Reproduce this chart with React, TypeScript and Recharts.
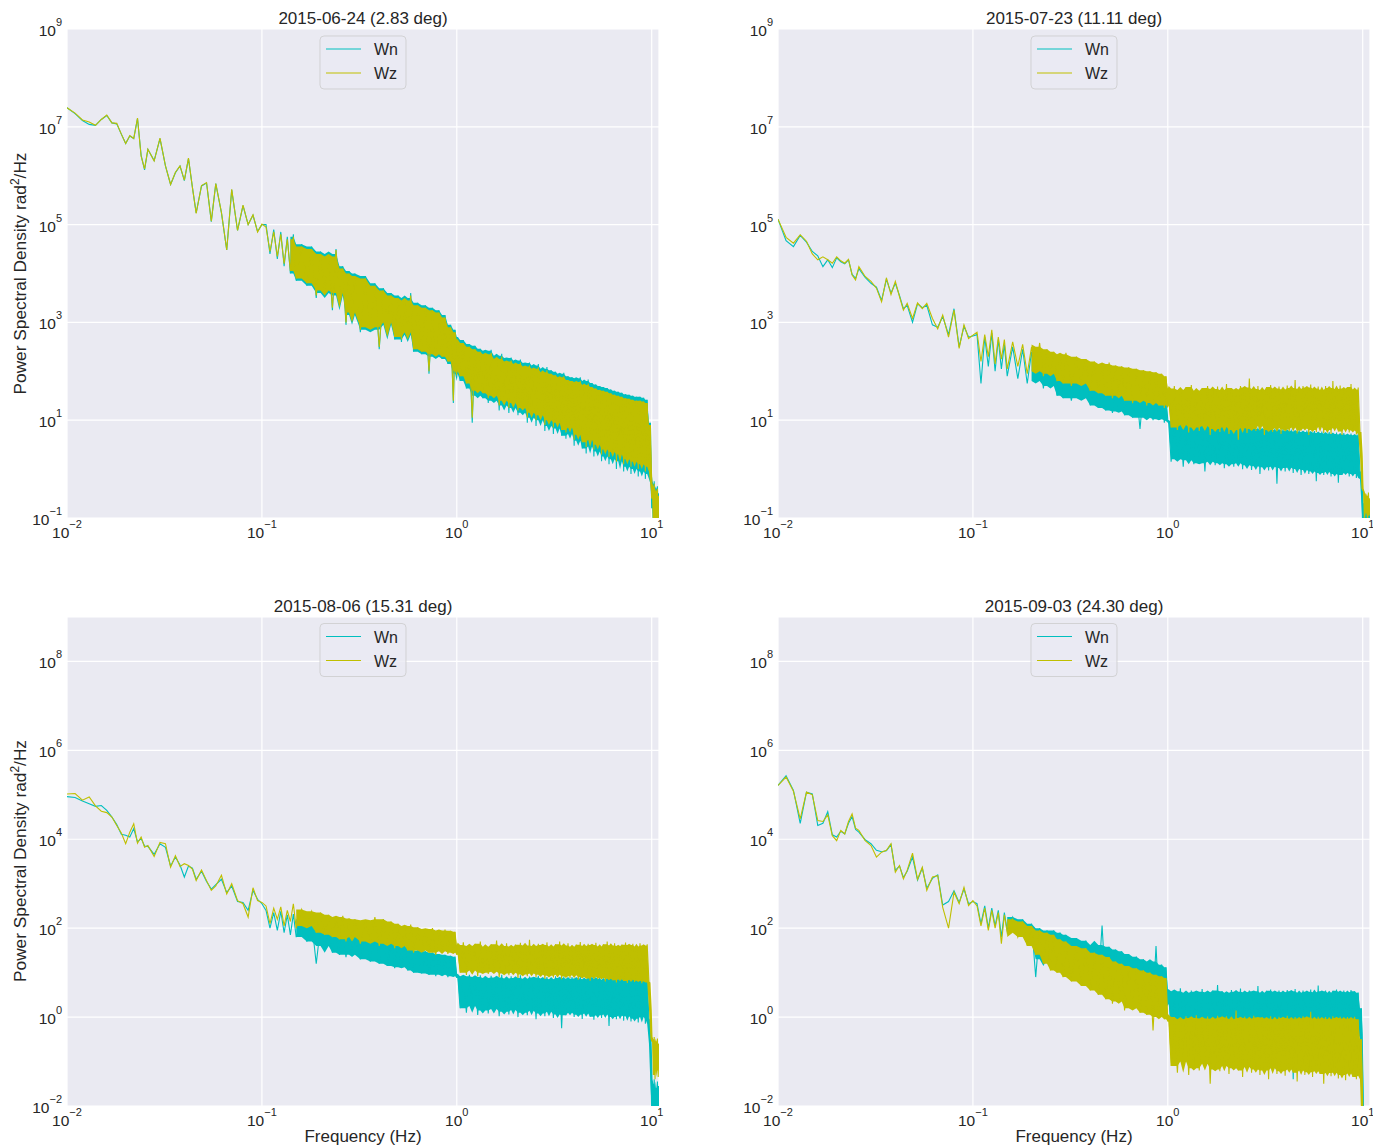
import React from "react";
import { ComposedChart, Line, Area, XAxis, YAxis, CartesianGrid } from "recharts";

// frequency bins (Hz), split by decade
const freqLow = [
  0.010, 0.011, 0.012, 0.013, 0.014, 0.015, 0.016, 0.017, 0.018, 0.019,
  0.020, 0.021, 0.022, 0.023, 0.024, 0.025, 0.026, 0.028, 0.030, 0.032,
  0.034, 0.036, 0.038, 0.040, 0.042, 0.044, 0.046, 0.049, 0.052, 0.055,
  0.058, 0.062, 0.066, 0.070, 0.075, 0.080, 0.085, 0.090, 0.095, 0.100,
];
const freqMid = [
  0.105, 0.11, 0.115, 0.12, 0.125, 0.13, 0.135, 0.14, 0.145, 0.15,
  0.16, 0.17, 0.18, 0.19, 0.20, 0.21, 0.22, 0.23, 0.24, 0.25,
  0.26, 0.27, 0.28, 0.29, 0.30, 0.32, 0.34, 0.36, 0.38, 0.40,
  0.42, 0.44, 0.46, 0.48, 0.50, 0.52, 0.54, 0.56, 0.58, 0.60,
  0.63, 0.66, 0.69, 0.72, 0.75, 0.78, 0.81, 0.84, 0.87, 0.90,
  0.93, 0.96, 0.98, 1.00,
];
const freqHigh = [
  1.01, 1.04, 1.08, 1.12, 1.16, 1.20, 1.24, 1.28, 1.32, 1.36,
  1.40, 1.45, 1.50, 1.55, 1.60, 1.65, 1.70, 1.75, 1.80, 1.85,
  1.90, 1.95, 2.00, 2.06, 2.12, 2.18, 2.24, 2.30, 2.36, 2.42,
  2.48, 2.55, 2.62, 2.69, 2.76, 2.83, 2.90, 2.97, 3.05, 3.13,
  3.21, 3.29, 3.37, 3.45, 3.54, 3.63, 3.72, 3.81, 3.90, 4.00,
  4.10, 4.20, 4.30, 4.40, 4.50, 4.61, 4.72, 4.83, 4.94, 5.05,
  5.17, 5.29, 5.41, 5.53, 5.65, 5.78, 5.91, 6.04, 6.17, 6.31,
  6.45, 6.59, 6.73, 6.88, 7.03, 7.18, 7.34, 7.50, 7.66, 7.83,
  8.00, 8.17, 8.35, 8.53, 8.71, 8.90, 9.09, 9.28, 9.48, 9.68,
  9.85, 10.0,
];
const freqTail = [10.1, 10.2, 10.3, 10.4, 10.5, 10.6, 10.7, 10.8, 10.9, 11.0];
const freqs = [...freqLow, ...freqMid, ...freqHigh, ...freqTail];

// PSD values as log10(rad^2/Hz), one per frequency bin
const jun24Wn = [
  7.39, 7.27, 7.13, 7.05, 7.03, 7.15, 7.23, 7.08, 7.06, 6.85,
  6.66, 6.81, 6.76, 7.17, 6.42, 6.12, 6.54, 6.31, 6.76, 6.20,
  5.82, 6.06, 6.20, 5.90, 6.35, 5.76, 5.24, 5.79, 5.85, 5.06,
  5.84, 5.24, 4.48, 5.71, 4.88, 5.39, 5.00, 5.19, 4.86, 5.00,
  5.00, 4.40, 4.90, 4.30, 4.85, 4.15, 4.75, 4.00, 4.80, 3.85,
  4.60, 3.75, 4.55, 3.50, 4.45, 3.60, 4.40, 3.25, 4.50, 3.55,
  4.15, 2.95, 4.05, 3.15, 4.00, 2.80, 3.95, 2.85, 3.80, 2.45,
  3.70, 2.95, 3.60, 2.65, 3.55, 2.60, 3.50, 2.75, 3.60, 2.40,
  3.40, 2.35, 3.35, 1.95, 3.30, 2.30, 3.25, 2.25, 3.15, 2.15,
  2.95, 1.35, 2.85, 1.95,
  2.70, 1.80, 2.64, 1.65, 2.56, 0.95, 2.52, 1.50, 2.46, 1.45,
  2.42, 1.35, 2.44, 1.40, 2.32, 1.20, 2.36, 1.30, 2.27, 1.15,
  2.28, 1.25, 2.22, 1.10, 2.24, 1.15, 2.17, 0.95, 2.18, 1.05,
  2.12, 0.88, 2.15, 1.00, 2.05, 0.78, 2.09, 0.88, 2.02, 0.72,
  1.99, 0.83, 1.95, 0.68, 1.97, 0.62, 1.90, 0.72, 1.88, 0.48,
  1.86, 0.58, 1.88, 0.42, 1.80, 0.32, 1.83, 0.46, 1.76, 0.26,
  1.73, 0.36, 1.70, 0.16, 1.68, 0.26, 1.66, 0.10, 1.63, 0.20,
  1.60, 0.00, 1.58, 0.16, 1.56, -0.05, 1.53, 0.05, 1.52, -0.10,
  1.50, 0.00, 1.48, -0.15, 1.48, -0.05, 1.46, -0.20, 1.42, -0.10,
  0.95, -0.80,
  -0.30, -1.30, -0.25, -1.20, -0.40, -1.35, -0.35, -1.15, -0.50, -1.00,
];
const jun24Wz = [
  7.39, 7.28, 7.14, 7.10, 7.03, 7.15, 7.24, 7.08, 7.07, 6.85,
  6.66, 6.82, 6.76, 7.18, 6.40, 6.14, 6.54, 6.30, 6.77, 6.20,
  5.82, 6.07, 6.20, 5.91, 6.36, 5.76, 5.23, 5.80, 5.86, 5.07,
  5.84, 5.25, 4.48, 5.72, 4.88, 5.40, 5.00, 5.20, 4.85, 5.01,
  4.95, 4.45, 4.85, 4.35, 4.80, 4.20, 4.70, 4.05, 4.75, 3.90,
  4.55, 3.80, 4.50, 3.55, 4.40, 3.65, 4.35, 3.30, 4.48, 3.60,
  4.10, 3.00, 4.00, 3.20, 3.95, 2.85, 3.90, 2.90, 3.75, 2.50,
  3.65, 3.00, 3.55, 2.70, 3.50, 2.65, 3.45, 2.80, 3.55, 2.45,
  3.35, 2.40, 3.30, 2.00, 3.25, 2.35, 3.20, 2.30, 3.10, 2.20,
  2.90, 1.40, 2.80, 2.00,
  2.65, 1.90, 2.58, 1.75, 2.50, 1.05, 2.45, 1.60, 2.40, 1.55,
  2.35, 1.45, 2.38, 1.50, 2.25, 1.30, 2.30, 1.40, 2.20, 1.25,
  2.22, 1.35, 2.15, 1.20, 2.18, 1.25, 2.10, 1.05, 2.12, 1.15,
  2.05, 1.00, 2.08, 1.10, 1.98, 0.90, 2.02, 1.00, 1.95, 0.85,
  1.92, 0.95, 1.88, 0.80, 1.90, 0.75, 1.82, 0.85, 1.80, 0.60,
  1.78, 0.70, 1.80, 0.55, 1.72, 0.45, 1.75, 0.60, 1.68, 0.40,
  1.65, 0.50, 1.62, 0.30, 1.60, 0.40, 1.58, 0.25, 1.55, 0.35,
  1.52, 0.15, 1.50, 0.30, 1.48, 0.10, 1.45, 0.20, 1.44, 0.05,
  1.42, 0.15, 1.40, 0.00, 1.40, 0.10, 1.38, -0.05, 1.35, 0.05,
  0.90, -0.60,
  -0.35, -1.20, -0.30, -1.10, -0.45, -1.25, -0.40, -1.05, -0.55, -0.90,
];

const jul23Wn = [
  5.11, 4.67, 4.55, 4.78, 4.64, 4.45, 4.36, 4.14, 4.28, 4.12,
  4.32, 4.24, 4.20, 4.28, 3.98, 3.90, 4.10, 3.92, 3.80, 3.72,
  3.45, 3.88, 3.60, 3.80, 3.55, 3.28, 3.35, 3.00, 3.38, 3.30,
  3.35, 2.95, 2.90, 3.12, 2.75, 3.28, 2.50, 2.92, 2.70, 2.72,
  2.75, 1.75, 2.70, 2.10, 2.78, 2.00, 2.65, 2.05, 2.55, 1.90,
  2.50, 1.85, 2.45, 1.75, 2.40, 1.80, 2.35, 1.65, 2.30, 1.70,
  2.15, 1.50, 2.10, 1.45, 2.05, 1.40, 2.00, 1.45, 1.95, 1.30,
  1.85, 1.25, 1.80, 1.20, 1.78, 1.15, 1.72, 1.18, 1.70, 1.10,
  1.65, 1.05, 1.62, 0.82, 1.60, 1.05, 1.58, 1.00, 1.55, 1.02,
  1.50, 0.95, 1.45, 1.00,
  0.98, 0.15, 0.92, 0.20, 0.95, 0.05, 0.90, 0.18, 0.93, 0.10,
  0.88, 0.12, 0.91, -0.05, 0.87, 0.15, 0.90, 0.08, 0.86, 0.12,
  0.89, 0.02, 0.85, 0.10, 0.88, 0.05, 0.84, 0.12, 0.87, 0.00,
  0.83, 0.08, 0.86, -0.02, 0.82, 0.06, 0.85, -0.10, 0.81, 0.04,
  0.84, -0.03, 0.80, 0.05, 0.83, -0.30, 0.79, 0.02, 0.82, -0.05,
  0.78, 0.03, 0.81, -0.08, 0.77, 0.00, 0.80, -0.12, 0.76, -0.02,
  0.79, -0.10, 0.75, -0.05, 0.78, -0.25, 0.74, -0.08, 0.77, -0.12,
  0.73, -0.06, 0.76, -0.15, 0.72, -0.10, 0.75, -0.28, 0.71, -0.12,
  0.74, -0.08, 0.70, -0.15, 0.73, -0.10, 0.69, -0.18, 0.72, -0.05,
  -0.20, -1.20,
  -0.70, -1.30, -0.75, -1.20, -0.80, -1.35, -0.72, -1.25, -0.85, -1.15,
];
const jul23Wz = [
  5.11, 4.74, 4.62, 4.79, 4.66, 4.40, 4.28, 4.34, 4.28, 4.21,
  4.34, 4.26, 4.21, 4.29, 3.97, 3.87, 4.14, 3.94, 3.84, 3.70,
  3.42, 3.91, 3.57, 3.84, 3.53, 3.25, 3.39, 3.08, 3.40, 3.28,
  3.39, 3.08, 2.87, 3.15, 2.70, 3.25, 2.47, 2.95, 2.67, 2.74,
  2.80, 2.20, 2.75, 2.30, 2.85, 2.15, 2.70, 2.25, 2.65, 2.05,
  2.60, 2.10, 2.55, 1.95, 2.50, 2.00, 2.58, 1.90, 2.45, 1.95,
  2.40, 1.80, 2.35, 1.75, 2.38, 1.70, 2.30, 1.75, 2.25, 1.60,
  2.20, 1.55, 2.15, 1.50, 2.18, 1.45, 2.12, 1.50, 2.10, 1.40,
  2.08, 1.35, 2.05, 1.40, 2.02, 1.30, 2.00, 1.35, 1.98, 1.30,
  1.95, 1.25, 1.90, 1.30,
  1.65, 0.85, 1.70, 0.80, 1.62, 0.90, 1.68, 0.75, 1.72, 0.85,
  1.60, 0.78, 1.66, 0.88, 1.70, 0.70, 1.64, 0.82, 1.69, 0.76,
  1.62, 0.86, 1.74, 0.72, 1.66, 0.80, 1.63, 0.60, 1.70, 0.84,
  1.67, 0.74, 1.85, 0.82, 1.64, 0.78, 1.70, 0.88, 1.62, 0.70,
  1.68, 0.80, 1.72, 0.76, 1.65, 0.84, 1.69, 0.72, 1.63, 0.81,
  1.71, 0.77, 1.66, 0.85, 1.82, 0.73, 1.64, 0.79, 1.70, 0.83,
  1.67, 0.70, 1.73, 0.80, 1.65, 0.76, 1.69, 0.86, 1.62, 0.74,
  1.70, 0.80, 1.66, 0.72, 1.80, 0.84, 1.64, 0.77, 1.71, 0.70,
  1.65, 0.82, 1.68, 0.75, 1.74, 0.79, 1.63, 0.71, 1.67, 0.76,
  0.30, -0.40,
  -0.45, -1.00, -0.50, -0.90, -0.55, -1.05, -0.48, -0.95, -0.60, -0.85,
];

const aug06Wn = [
  4.96, 4.94, 4.86, 4.80, 4.74, 4.76, 4.65, 4.50, 4.33, 4.11,
  4.09, 4.05, 4.24, 3.94, 4.02, 3.85, 3.84, 3.66, 3.90, 3.82,
  3.40, 3.60, 3.42, 3.15, 3.40, 3.35, 3.10, 3.28, 3.05, 2.88,
  2.98, 3.10, 2.80, 2.95, 2.60, 2.58, 2.40, 2.85, 2.65, 2.55,
  2.40, 2.00, 2.35, 1.95, 2.38, 1.90, 2.30, 1.85, 2.32, 1.80,
  2.20, 1.70, 2.15, 1.20, 2.05, 1.60, 1.95, 1.45, 1.90, 1.40,
  1.92, 1.35, 1.85, 1.40, 1.80, 1.30, 1.78, 1.25, 1.75, 1.20,
  2.20, 1.15, 1.70, 1.10, 1.65, 1.12, 1.60, 1.05, 1.55, 1.00,
  1.50, 0.98, 1.48, 0.95, 1.45, 0.92, 1.42, 0.95, 1.40, 0.90,
  1.38, 0.92, 1.36, 0.88,
  0.97, 0.20, 0.92, 0.10, 0.95, 0.25, 0.90, 0.05, 0.94, 0.15,
  0.88, 0.08, 0.93, 0.18, 0.89, 0.02, 0.95, 0.12, 0.87, 0.06,
  0.92, 0.16, 0.88, 0.00, 0.94, 0.10, 0.86, 0.04, 0.91, 0.14,
  0.89, -0.05, 0.93, 0.08, 0.87, 0.02, 0.90, 0.12, 0.85, -0.02,
  0.92, 0.06, 0.88, -0.25, 0.91, 0.04, 0.86, 0.10, 0.90, 0.00,
  0.87, 0.05, 0.92, -0.04, 0.85, 0.08, 0.89, 0.01, 0.93, -0.06,
  0.86, 0.04, 0.90, -0.02, 0.84, 0.06, 0.88, -0.20, 0.91, 0.00,
  0.85, -0.05, 0.89, 0.03, 0.83, -0.08, 0.87, 0.02, 0.90, -0.10,
  0.84, -0.04, 0.88, -0.12, 0.82, 0.00, 0.86, -0.15, 0.85, -0.05,
  -0.60, -2.10,
  -1.50, -2.30, -1.40, -2.20, -1.60, -2.40, -1.45, -2.25, -1.55, -2.10,
];
const aug06Wz = [
  5.02, 5.03, 4.88, 4.95, 4.75, 4.63, 4.60, 4.50, 4.31, 4.14,
  3.90, 4.16, 4.35, 3.91, 4.05, 3.82, 3.86, 3.61, 3.93, 3.90,
  3.37, 3.63, 3.39, 3.45, 3.41, 3.33, 3.07, 3.31, 3.07, 2.85,
  2.95, 3.19, 2.77, 3.00, 2.62, 2.55, 2.25, 2.91, 2.62, 2.58,
  2.50, 2.10, 2.45, 2.20, 2.48, 2.05, 2.40, 2.15, 2.55, 2.00,
  2.42, 2.05, 2.38, 1.90, 2.35, 1.85, 2.30, 1.80, 2.25, 1.75,
  2.28, 1.70, 2.22, 1.80, 2.20, 1.65, 2.18, 1.70, 2.25, 1.60,
  2.20, 1.65, 2.15, 1.55, 2.10, 1.60, 2.05, 1.50, 2.08, 1.45,
  2.02, 1.50, 1.98, 1.45, 2.00, 1.40, 1.95, 1.48, 1.97, 1.42,
  1.94, 1.45, 1.92, 1.40,
  1.62, 1.00, 1.68, 0.95, 1.60, 1.05, 1.65, 0.92, 1.70, 1.00,
  1.58, 0.97, 1.64, 1.02, 1.72, 0.90, 1.60, 0.98, 1.66, 0.94,
  1.59, 1.00, 1.63, 0.88, 1.67, 0.96, 1.61, 0.92, 1.74, 0.98,
  1.60, 0.90, 1.65, 0.95, 1.62, 0.86, 1.68, 0.93, 1.59, 0.89,
  1.64, 0.95, 1.70, 0.85, 1.61, 0.92, 1.66, 0.88, 1.58, 0.94,
  1.63, 0.84, 1.69, 0.90, 1.60, 0.87, 1.65, 0.82, 1.62, 0.91,
  1.67, 0.85, 1.59, 0.88, 1.64, 0.80, 1.70, 0.86, 1.61, 0.83,
  1.66, 0.78, 1.60, 0.85, 1.63, 0.81, 1.68, 0.77, 1.62, 0.84,
  1.65, 0.79, 1.59, 0.82, 1.66, 0.76, 1.61, 0.80, 1.64, 0.78,
  0.20, -0.55,
  -0.50, -1.30, -0.45, -1.40, -0.55, -1.20, -0.48, -1.35, -0.60, -1.10,
];

const sep03Wn = [
  5.21, 5.43, 5.10, 4.36, 5.06, 5.02, 4.31, 4.36, 4.62, 4.10,
  4.05, 4.18, 4.12, 4.36, 4.51, 4.22, 4.16, 3.99, 3.90, 3.75,
  3.72, 3.74, 3.88, 3.30, 3.40, 3.14, 3.28, 3.60, 3.08, 3.35,
  2.90, 3.12, 3.20, 2.52, 2.60, 2.84, 2.58, 2.88, 2.55, 2.60,
  2.55, 2.10, 2.50, 2.00, 2.45, 2.05, 2.40, 1.80, 2.35, 1.95,
  2.25, 1.85, 2.20, 1.70, 2.10, 0.90, 2.00, 1.30, 1.95, 1.15,
  1.95, 1.10, 1.90, 1.00, 1.85, 0.95, 1.78, 0.85, 1.72, 0.80,
  1.62, 0.75, 2.06, 0.65, 1.58, 0.60, 1.52, 0.55, 1.48, 0.50,
  1.42, 0.45, 1.36, 0.40, 1.30, 0.35, 1.25, 0.30, 1.60, 0.30,
  1.18, 0.25, 1.12, 0.30,
  0.62, -0.30, 0.58, -0.45, 0.65, -0.35, 0.55, -0.50, 0.60, -0.40,
  0.57, -0.60, 0.63, -0.38, 0.56, -0.45, 0.60, -0.42, 0.72, -0.36,
  0.58, -0.48, 0.55, -0.40, 0.61, -0.55, 0.57, -0.35, 0.64, -0.44,
  0.56, -0.40, 0.60, -0.50, 0.58, -0.38, 0.70, -0.46, 0.55, -0.42,
  0.59, -0.52, 0.62, -0.40, 0.57, -0.45, 0.60, -0.36, 0.56, -0.48,
  0.61, -0.42, 0.58, -1.40, 0.63, -0.44, 0.55, -0.40, 0.60, -0.50,
  0.57, -0.38, 0.62, -0.46, 0.56, -0.42, 0.71, -0.52, 0.58, -0.40,
  0.60, -0.45, 0.55, -0.38, 0.59, -0.48, 0.62, -1.30, 0.57, -0.44,
  0.60, -0.40, 0.56, -0.50, 0.61, -0.42, 0.58, -0.46, 0.55, -0.40,
  0.20, -1.50,
  -2.60, -2.90, -2.70, -3.00, -2.60, -2.80, -2.70, -2.90, -2.60, -2.80,
];
const sep03Wz = [
  5.21, 5.40, 5.08, 4.46, 5.06, 5.00, 4.42, 4.40, 4.55, 4.08,
  3.97, 4.20, 4.12, 4.40, 4.57, 4.25, 4.20, 3.97, 3.86, 3.60,
  3.71, 3.75, 3.90, 3.26, 3.41, 3.11, 3.30, 3.69, 3.10, 3.37,
  2.85, 3.15, 3.18, 2.47, 2.00, 2.81, 2.55, 2.92, 2.51, 2.62,
  2.50, 2.05, 2.45, 1.95, 2.40, 2.00, 2.35, 1.65, 2.30, 1.90,
  2.20, 1.80, 2.15, 1.60, 2.05, 1.40, 1.95, 1.20, 1.90, 1.05,
  1.85, 1.00, 1.75, 0.90, 1.70, 0.80, 1.60, 0.70, 1.55, 0.60,
  1.45, 0.50, 1.40, 0.40, 1.35, 0.30, 1.25, 0.35, 1.20, 0.15,
  1.15, 0.20, 1.10, 0.10, 1.05, 0.05, 1.00, -0.30, 0.95, 0.00,
  0.92, -0.05, 0.88, -0.10,
  0.05, -1.10, 0.00, -1.25, -0.05, -1.00, 0.02, -1.30, -0.02, -1.15,
  0.04, -1.20, -0.03, -1.05, 0.01, -1.50, -0.04, -1.18, 0.03, -1.22,
  -0.01, -1.10, 0.02, -1.28, -0.05, -1.15, 0.15, -1.20, -0.02, -1.35,
  0.01, -1.12, -0.04, -1.25, 0.03, -1.18, -0.01, -1.30, 0.00, -1.20,
  -0.03, -1.40, 0.02, -1.15, -0.05, -1.28, 0.01, -1.22, -0.02, -1.32,
  0.03, -1.18, -0.04, -1.25, 0.00, -1.45, -0.03, -1.20, 0.02, -1.30,
  -0.01, -1.24, 0.12, -1.35, -0.04, -1.22, 0.01, -1.28, -0.03, -1.50,
  0.00, -1.26, -0.05, -1.33, 0.02, -1.25, -0.02, -1.38, 0.01, -1.30,
  -0.04, -1.42, 0.00, -1.27, -0.03, -1.35, 0.01, -1.40, -0.05, -1.32,
  -0.50, -2.40,
  -2.50, -2.80, -2.60, -2.90, -2.50, -2.70, -2.60, -2.80, -2.50, -2.70,
];

const titles = [
  "2015-06-24 (2.83 deg)",
  "2015-07-23 (11.11 deg)",
  "2015-08-06 (15.31 deg)",
  "2015-09-03 (24.30 deg)",
];
const freqTicks = [0.01, 0.1, 1, 10];
const topRowTicks = [1e-1, 1e1, 1e3, 1e5, 1e7, 1e9];
const bottomRowTicks = [1e-2, 1, 1e2, 1e4, 1e6, 1e8];

const FONT = "'Liberation Sans', Arial, Helvetica, sans-serif";
const TEXT = "#262626";
const WN_COLOR = "#00bfbf";
const WZ_COLOR = "#bfbf00";

const PLOT_W = 592;
const PLOT_H = 489;
const PAD_L = 70;
const PAD_T = 40;
const PAD_R = 15;
const PAD_B = 30;
const CHART_W = PLOT_W + PAD_L + PAD_R;
const CHART_H = PLOT_H + PAD_T + PAD_B;

// core of the noise band around bin i: 2nd lowest / 2nd highest of the 5 nearest bins,
// so single spikes stay as thin line strokes
const bandAt = (vals: number[], i: number) => {
  const win = vals.slice(Math.max(0, i - 2), Math.min(vals.length, i + 3)).sort((a, b) => a - b);
  const lo = win.length > 2 ? win[1] : win[0];
  const hi = win.length > 2 ? win[win.length - 2] : win[win.length - 1];
  return [Math.pow(10, lo), Math.pow(10, hi)];
};

const toRows = (wn: number[], wz: number[], bandFrom: number) =>
  freqs.map((f, i) => ({
    f,
    wn: Math.pow(10, wn[i]),
    wz: Math.pow(10, wz[i]),
    wnBand: f >= bandFrom ? bandAt(wn, i) : undefined,
    wzBand: f >= bandFrom ? bandAt(wz, i) : undefined,
  }));

const panels = [
  { title: titles[0], wn: jun24Wn, wz: jun24Wz, bandFrom: 0.14, yDomain: [1e-1, 1e9], yTicks: topRowTicks, left: 67, top: 29, yLabel: true, xLabel: false },
  { title: titles[1], wn: jul23Wn, wz: jul23Wz, bandFrom: 0.2, yDomain: [1e-1, 1e9], yTicks: topRowTicks, left: 778, top: 29, yLabel: false, xLabel: false },
  { title: titles[2], wn: aug06Wn, wz: aug06Wz, bandFrom: 0.15, yDomain: [1e-2, 1e9], yTicks: bottomRowTicks, left: 67, top: 616.5, yLabel: true, xLabel: true },
  { title: titles[3], wn: sep03Wn, wz: sep03Wz, bandFrom: 0.15, yDomain: [1e-2, 1e9], yTicks: bottomRowTicks, left: 778, top: 616.5, yLabel: false, xLabel: true },
];

const expText = (v: number) => {
  const e = Math.round(Math.log10(v));
  return e < 0 ? `\u2212${-e}` : `${e}`;
};

const XTick = (props: any) => {
  const { x, y, payload } = props;
  return (
    <text x={x} y={y + 19.5} textAnchor="middle" fontSize={15.5} fill={TEXT} fontFamily={FONT}>
      10
      <tspan dy={-10} fontSize={11}>
        {expText(payload.value)}
      </tspan>
    </text>
  );
};

const YTick = (props: any) => {
  const { x, y, payload } = props;
  return (
    <text x={x - 5} y={y + 7} textAnchor="end" fontSize={15.5} fill={TEXT} fontFamily={FONT}>
      10
      <tspan dy={-10} fontSize={11}>
        {expText(payload.value)}
      </tspan>
    </text>
  );
};

const Legend = ({ cx, top }: { cx: number; top: number }) => {
  const left = cx - 43;
  return (
    <g>
      <rect x={left} y={top} width={86} height={53} rx={4} fill="#eaeaf2" fillOpacity={0.8} stroke="#cccccc" strokeOpacity={0.8} />
      <line x1={left + 6} x2={left + 41} y1={top + 13} y2={top + 13} stroke={WN_COLOR} strokeWidth={1.2} />
      <line x1={left + 6} x2={left + 41} y1={top + 37} y2={top + 37} stroke={WZ_COLOR} strokeWidth={1.2} />
      <text x={left + 54} y={top + 19} fontSize={16} fill={TEXT} fontFamily={FONT}>Wn</text>
      <text x={left + 54} y={top + 43} fontSize={16} fill={TEXT} fontFamily={FONT}>Wz</text>
    </g>
  );
};

// Wn is drawn in the base chart (with grid and axes), Wz in an identical chart laid on top
const Panel = ({ p }: { p: (typeof panels)[number] }) => {
  const rows = toRows(p.wn, p.wz, p.bandFrom);
  return (
    <div style={{ position: "absolute", left: p.left - PAD_L, top: p.top - PAD_T, width: CHART_W, height: CHART_H }}>
      <ComposedChart width={CHART_W} height={CHART_H} data={rows} margin={{ top: PAD_T, right: PAD_R, bottom: 0, left: 0 }}>
        <CartesianGrid stroke="#ffffff" strokeWidth={1.2} fill="#eaeaf2" fillOpacity={1} />
        <XAxis
          dataKey="f"
          type="number"
          scale="log"
          domain={[0.01, 10.9]}
          allowDataOverflow
          ticks={freqTicks}
          interval={0}
          height={PAD_B}
          axisLine={false}
          tickLine={false}
          tickSize={0}
          tickMargin={0}
          tick={<XTick />}
        />
        <YAxis
          type="number"
          scale="log"
          domain={p.yDomain}
          allowDataOverflow
          ticks={p.yTicks}
          interval={0}
          width={PAD_L}
          axisLine={false}
          tickLine={false}
          tickSize={0}
          tickMargin={0}
          tick={<YTick />}
        />
        <Area dataKey="wnBand" type="linear" stroke="none" fill={WN_COLOR} fillOpacity={1} isAnimationActive={false} />
        <Line dataKey="wn" name="Wn" type="linear" stroke={WN_COLOR} strokeWidth={1.1} dot={false} isAnimationActive={false} />
      </ComposedChart>
      <div style={{ position: "absolute", left: 0, top: 0 }}>
        <ComposedChart
          width={CHART_W}
          height={CHART_H}
          data={rows}
          margin={{ top: PAD_T, right: PAD_R, bottom: PAD_B, left: PAD_L }}
        >
          <XAxis dataKey="f" type="number" scale="log" domain={[0.01, 10.9]} allowDataOverflow hide />
          <YAxis type="number" scale="log" domain={p.yDomain} allowDataOverflow hide />
          <Area dataKey="wzBand" type="linear" stroke="none" fill={WZ_COLOR} fillOpacity={1} isAnimationActive={false} />
          <Line dataKey="wz" name="Wz" type="linear" stroke={WZ_COLOR} strokeWidth={1.1} dot={false} isAnimationActive={false} />
        </ComposedChart>
      </div>
    </div>
  );
};

export default function App() {
  return (
    <div
      style={{
        position: "absolute",
        left: 0,
        top: 0,
        width: 1373,
        height: 1147,
        background: "#ffffff",
        overflow: "hidden",
        fontFamily: FONT,
      }}
    >
      {panels.map((p) => (
        <Panel key={p.title} p={p} />
      ))}
      <svg width={1373} height={1147} style={{ position: "absolute", left: 0, top: 0, pointerEvents: "none" }}>
        {panels.map((p) => {
          const cx = p.left + PLOT_W / 2;
          return (
            <g key={p.title}>
              <text x={cx} y={p.top - 5} textAnchor="middle" fontSize={17} fill={TEXT} fontFamily={FONT}>
                {p.title}
              </text>
              <Legend cx={cx} top={p.top + 7} />
              {p.yLabel && (
                <text
                  transform={`translate(26, ${p.top + PLOT_H / 2}) rotate(-90)`}
                  textAnchor="middle"
                  fontSize={17.3}
                  fill={TEXT}
                  fontFamily={FONT}
                >
                  Power Spectral Density rad
                  <tspan dy={-7} fontSize={12}>2</tspan>
                  <tspan dy={7}>/Hz</tspan>
                </text>
              )}
              {p.xLabel && (
                <text x={cx} y={p.top + PLOT_H + 36} textAnchor="middle" fontSize={17} fill={TEXT} fontFamily={FONT}>
                  Frequency (Hz)
                </text>
              )}
            </g>
          );
        })}
      </svg>
    </div>
  );
}
